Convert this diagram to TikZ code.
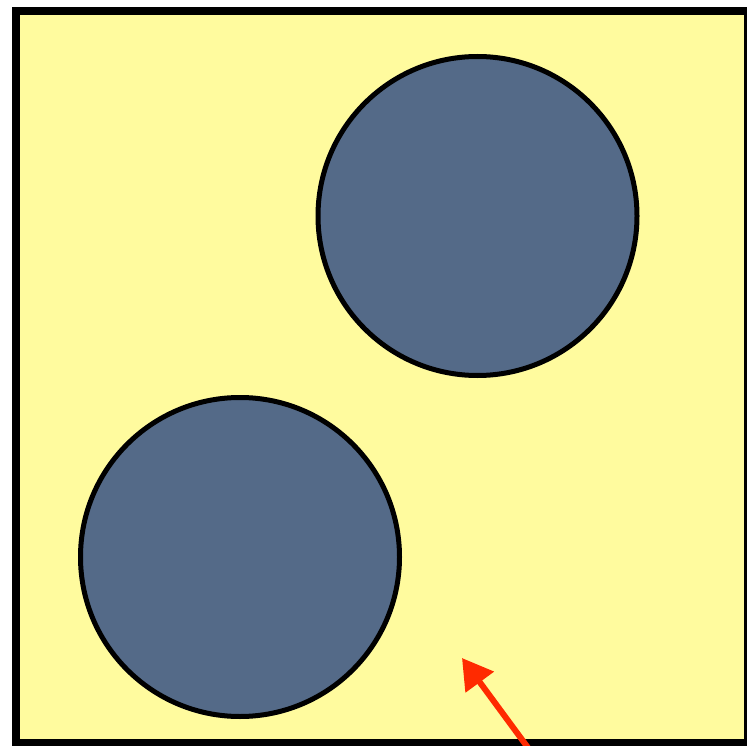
\documentclass[tikz,border=0pt]{standalone}
\usepackage{xcolor}
\usepackage{tikz}
\usetikzlibrary{positioning,arrows.meta}
\definecolor{paleyellow}{RGB}{255,251,158}
\definecolor{slateblue}{RGB}{84,106,136}
\definecolor{alertred}{RGB}{255,42,0}

\begin{document}
\begin{tikzpicture}[
        x=1pt, y=-1pt,
        frame/.style={draw=black, line width=8pt, fill=paleyellow},
        disc/.style={circle, draw=black, line width=5pt, fill=slateblue,
                    minimum size=319pt, inner sep=0pt},
        pointer/.style={-{Triangle[length=30pt, width=34pt]}, line width=6pt, alertred}
    ]
        \clip (0,0) rectangle (747,746);
        \useasboundingbox (0,0) rectangle (747,746);

        % Rahmen
        \node[frame, rectangle, minimum width=732pt, minimum height=732pt, inner sep=0pt]
            (box) at (382,377) {};

        % Scheiben
        \node[disc] (upper) at (477.5,216) {};
        \node[disc] (lower) at (240,557) {};

        % Pfeil
        \coordinate (tail) at (537,760);
        \coordinate (tip) at (462,658);
        \draw[pointer] (tail) -- (tip);
    \end{tikzpicture}
\end{document}
